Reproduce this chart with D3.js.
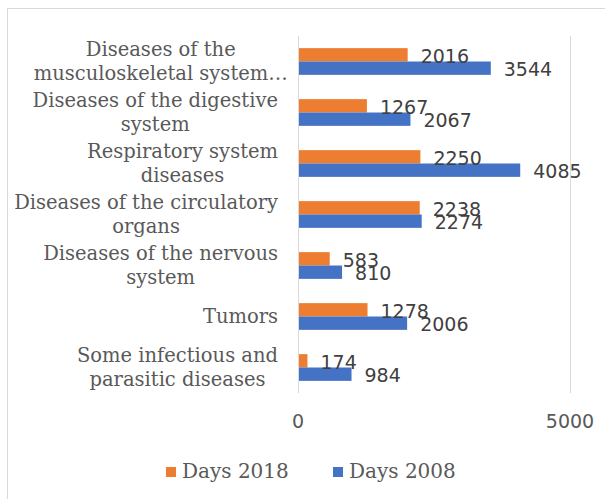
<!DOCTYPE html>
<html>
<head>
<meta charset="utf-8">
<script src="https://cdn.jsdelivr.net/npm/d3@7"></script>
<style>
  body { margin: 0; background: #fff; }
  svg { display: block; }
</style>
</head>
<body>
<svg id="chart" width="605" height="499"></svg>
<script>
// Hospital days by disease group, 2018 vs 2008
const categories = [
  "Diseases of the musculoskeletal system and connective tissue",
  "Diseases of the digestive system",
  "Respiratory system diseases",
  "Diseases of the circulatory organs",
  "Diseases of the nervous system",
  "Tumors",
  "Some infectious and parasitic diseases"
];
const days2018 = [2016, 1267, 2250, 2238, 583, 1278, 174];
const days2008 = [3544, 2067, 4085, 2274, 810, 2006, 984];
const seriesNames = ["Days 2018", "Days 2008"];
const seriesColors = ["#ED7D31", "#4472C4"];
const xTicks = [0, 5000];

const series = [days2018, days2008];

const svg = d3.select("#chart");

// outer chart frame
svg.append("rect")
  .attr("x", 7.5).attr("y", 8.5)
  .attr("width", 620).attr("height", 520)
  .attr("fill", "#fff")
  .attr("stroke", "#d9d9d9")
  .attr("stroke-width", 1);

const x = d3.scaleLinear().domain([0, 5000]).range([298, 570]);
const y = d3.scaleBand().domain(categories).range([36, 393]).padding(0);
const sub = d3.scaleBand().domain(seriesNames).range([0, y.bandwidth()])
  .paddingInner(0).paddingOuter(0.91);

// vertical gridlines
svg.append("g").selectAll("line")
  .data(xTicks).join("line")
  .attr("x1", d => Math.round(x(d)) + 0.5)
  .attr("x2", d => Math.round(x(d)) + 0.5)
  .attr("y1", y.range()[0])
  .attr("y2", y.range()[1])
  .attr("stroke", "#d9d9d9")
  .attr("stroke-width", 1);

// tick labels
svg.append("g").selectAll("text")
  .data(xTicks).join("text")
  .attr("x", d => x(d))
  .attr("y", 421)
  .attr("text-anchor", "middle")
  .attr("dominant-baseline", "central")
  .attr("font-family", "DejaVu Sans")
  .attr("font-size", 19)
  .attr("fill", "#595959")
  .text(d => d);

// bars
const rows = categories.map((c, i) => ({ c, vals: series.map((s, k) => ({ name: seriesNames[k], color: seriesColors[k], v: s[i] })) }));

const groups = svg.append("g").selectAll("g")
  .data(rows).join("g")
  .attr("transform", d => `translate(0,${y(d.c)})`);

groups.selectAll("rect")
  .data(d => d.vals).join("rect")
  .attr("x", x(0) + 1)
  .attr("y", d => sub(d.name))
  .attr("width", d => x(d.v) - x(0) - 1)
  .attr("height", sub.bandwidth())
  .attr("fill", d => d.color);

// value labels
groups.selectAll("text")
  .data(d => d.vals).join("text")
  .attr("x", d => x(d.v) + 13)
  .attr("y", d => sub(d.name) + sub.bandwidth() / 2 + 1)
  .attr("dominant-baseline", "central")
  .attr("font-family", "DejaVu Sans")
  .attr("font-size", 19)
  .attr("fill", "#404040")
  .text(d => d.v);

// category labels, wrapped to two lines
const labelFont = { family: "DejaVu Serif", size: 19.5 };
const maxLabelWidth = 272;
const lineGap = 24;
const labelRight = 278;

const measurer = svg.append("text")
  .attr("font-family", labelFont.family)
  .attr("font-size", labelFont.size)
  .attr("visibility", "hidden");
function textWidth(s) { measurer.text(s); return measurer.node().getComputedTextLength(); }

function wrap(label) {
  const words = label.split(" ");
  const lines = [];
  let cur = "";
  words.forEach(w => {
    const trial = cur ? cur + " " + w : w;
    if (textWidth(trial) <= maxLabelWidth || !cur) cur = trial;
    else { lines.push(cur); cur = w; }
  });
  if (cur) lines.push(cur);
  if (lines.length > 2) {
    lines.length = 2;
    lines[1] = lines[1] + "…";
  }
  return lines;
}

const labelG = svg.append("g");
categories.forEach(c => {
  const lines = wrap(c);
  const widest = d3.max(lines, l => textWidth(l.replace("…", "")));
  const cx = labelRight - widest / 2;
  const cy = y(c) + y.bandwidth() / 2;
  const t = labelG.append("text")
    .attr("font-family", labelFont.family)
    .attr("font-size", labelFont.size)
    .attr("fill", "#595959")
    .attr("text-anchor", "middle");
  lines.forEach((l, i) => {
    t.append("tspan")
      .attr("x", cx)
      .attr("y", cy + (i - (lines.length - 1) / 2) * lineGap)
      .attr("dominant-baseline", "central")
      .text(l);
  });
});
measurer.remove();

// legend
const legendY = 471;
const legendItems = [
  { name: seriesNames[0], color: seriesColors[0], x: 166 },
  { name: seriesNames[1], color: seriesColors[1], x: 333 }
];
const lg = svg.append("g").selectAll("g")
  .data(legendItems).join("g")
  .attr("transform", d => `translate(${d.x},${legendY})`);
lg.append("rect")
  .attr("x", 0).attr("y", -4)
  .attr("width", 10).attr("height", 10)
  .attr("fill", d => d.color);
lg.append("text")
  .attr("x", 16)
  .attr("y", 0)
  .attr("dominant-baseline", "central")
  .attr("font-family", "DejaVu Serif")
  .attr("font-size", 20)
  .attr("fill", "#595959")
  .text(d => d.name);
</script>
</body>
</html>
